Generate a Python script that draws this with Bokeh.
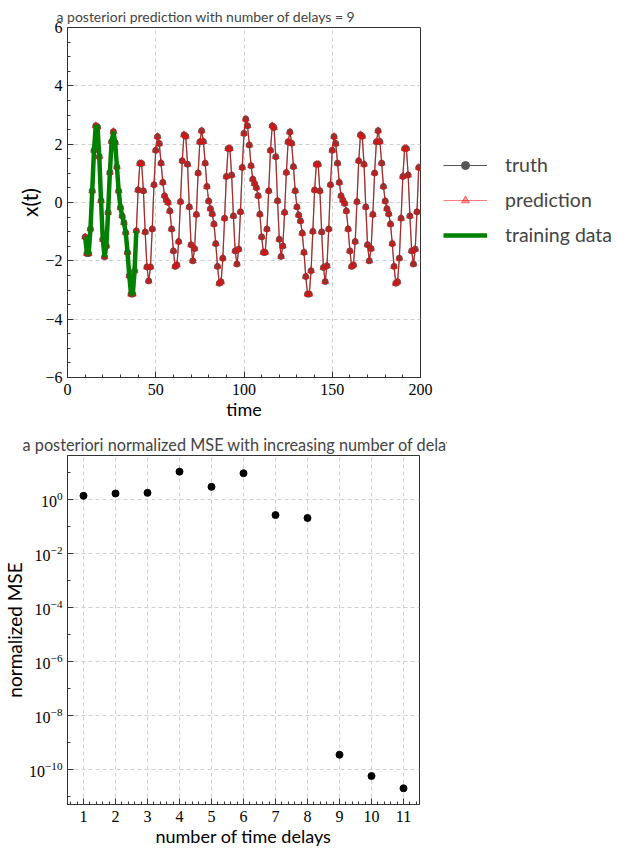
from bokeh.plotting import figure
from bokeh.layouts import column, row
from bokeh.models import (Range1d, Legend, LegendItem, FixedTicker,
                          SingleIntervalTicker, LogTickFormatter)
from bokeh.embed import file_html
from bokeh.resources import INLINE

# ---------------- data ----------------
time = list(range(10, 200))
x_truth = [
    -1.18, -1.75, -1.75, -0.91, 0.40, 1.79, 2.63, 2.59, 1.57, 0.06,
    -1.26, -1.86, -1.49, -0.34, 1.03, 2.09, 2.43, 2.06, 1.22, 0.40,
    -0.17, -0.46, -0.69, -1.03, -1.71, -2.51, -3.14, -3.14, -2.34, -0.97,
    0.43, 1.34, 1.34, 0.40, -1.01, -2.21, -2.69, -2.21, -0.91, 0.61,
    1.79, 2.26, 2.02, 1.35, 0.69, 0.23, 0.08, 0.00, -0.29, -0.91,
    -1.66, -2.19, -2.14, -1.34, 0.03, 1.43, 2.32, 2.27, 1.31, -0.15,
    -1.45, -2.00, -1.58, -0.41, 1.01, 2.08, 2.46, 2.09, 1.35, 0.55,
    0.05, -0.21, -0.39, -0.74, -1.41, -2.19, -2.77, -2.72, -1.91, -0.54,
    0.89, 1.85, 1.85, 0.94, -0.46, -1.66, -2.11, -1.60, -0.32, 1.20,
    2.37, 2.86, 2.63, 1.97, 1.26, 0.80, 0.65, 0.51, 0.23, -0.40,
    -1.18, -1.71, -1.71, -0.91, 0.40, 1.79, 2.63, 2.57, 1.57, 0.06,
    -1.26, -1.85, -1.49, -0.34, 1.03, 2.08, 2.42, 2.03, 1.23, 0.40,
    -0.15, -0.43, -0.63, -1.05, -1.71, -2.54, -3.14, -3.14, -2.34, -0.99,
    0.43, 1.31, 1.31, 0.40, -1.01, -2.23, -2.71, -2.17, -0.91, 0.61,
    1.79, 2.26, 2.02, 1.35, 0.69, 0.23, 0.08, -0.03, -0.29, -0.91,
    -1.66, -2.19, -2.14, -1.34, 0.03, 1.43, 2.32, 2.27, 1.31, -0.15,
    -1.45, -2.00, -1.58, -0.41, 1.01, 2.08, 2.46, 2.09, 1.35, 0.55,
    0.05, -0.21, -0.39, -0.74, -1.41, -2.19, -2.77, -2.72, -1.91, -0.54,
    0.89, 1.85, 1.85, 0.94, -0.46, -1.66, -2.11, -1.60, -0.32, 1.20,
]
x_prediction = list(x_truth)
train_time = time[:30]
train_x = x_truth[:30]

delays = [1, 2, 3, 4, 5, 6, 7, 8, 9, 10, 11]
mse = [1.4, 1.7, 1.8, 11.0, 3.0, 9.6, 0.27, 0.21, 3.5e-10, 5.7e-11, 2.0e-11]

SANS = "Lato"
SERIF = "Liberation Serif"
AX = "#333333"
TRUTH_C = "#555555"
PRED_C = "red"
TRAIN_C = "green"


def style_axis(ax, label_size="18px", label_standoff=4):
    ax.axis_line_color = AX
    ax.major_tick_line_color = AX
    ax.minor_tick_line_color = AX
    ax.major_tick_in = 6
    ax.major_tick_out = 0
    ax.minor_tick_in = 3
    ax.minor_tick_out = 0
    ax.major_label_text_font = SERIF
    ax.major_label_text_font_size = "16px"
    ax.major_label_text_color = "black"
    ax.major_label_standoff = label_standoff
    ax.axis_label_text_font = SANS
    ax.axis_label_text_font_style = "normal"
    ax.axis_label_text_font_size = label_size
    ax.axis_label_text_color = "black"
    ax.axis_label_standoff = 0


def draw_series(p, t, xt, xp, tt, tx, visible=True):
    lt = p.line(t, xt, line_color=TRUTH_C, line_width=1.2, visible=visible)
    st = p.scatter(t, xt, marker="circle", size=6, fill_color=TRUTH_C,
                   line_color=TRUTH_C, visible=visible)
    lp = p.line(t, xp, line_color=PRED_C, line_alpha=0.5, line_width=1.2, visible=visible)
    sp = p.scatter(t, xp, marker="triangle", size=7, fill_color=PRED_C, line_color=PRED_C,
                   fill_alpha=0.4, line_alpha=0.5, visible=visible)
    lg = p.line(tt, tx, line_color=TRAIN_C, line_width=4.5, visible=visible)
    return lt, st, lp, sp, lg


# ---------------- top figure ----------------
p1 = figure(width=434, height=423, frame_align=False,
            x_range=Range1d(0, 200), y_range=Range1d(-6, 6),
            output_backend="svg", toolbar_location=None,
            min_border_left=67, min_border_top=27, min_border_bottom=46,
            min_border_right=14)
p1.title.text = "a posteriori prediction with number of delays = 9"
p1.title.align = "left"
p1.title.offset = -11
p1.title.text_font = SANS
p1.title.text_font_style = "normal"
p1.title.text_font_size = "14px"
p1.title.standoff = 5
p1.outline_line_color = AX

xt1 = SingleIntervalTicker(interval=50, num_minor_ticks=5)
yt1 = SingleIntervalTicker(interval=2, num_minor_ticks=4)
p1.xaxis.ticker = xt1
p1.yaxis.ticker = yt1
style_axis(p1.xaxis[0], "18px", 6)
style_axis(p1.yaxis[0], "21px", 5)
p1.xaxis.axis_label = "time"
p1.yaxis.axis_label = "x(t)"
p1.yaxis.major_label_overrides = {-2: "\u22122", -4: "\u22124", -6: "\u22126"}
p1.grid.grid_line_color = "#d0d0d0"
p1.grid.grid_line_dash = "4 3"

draw_series(p1, time, x_truth, x_prediction, train_time, train_x)

# ---------------- legend panel (separate canvas to the right) ----------------
pl = figure(width=200, height=423, frame_align=False,
            x_range=Range1d(0, 200), y_range=Range1d(-6, 6),
            x_axis_location=None, y_axis_location=None,
            output_backend="svg", toolbar_location=None, min_border=0)
pl.grid.visible = False
pl.outline_line_color = None
lt, st, lp, sp, lg = draw_series(pl, time, x_truth, x_prediction, train_time, train_x,
                                 visible=False)
legend = Legend(items=[
    LegendItem(label="truth", renderers=[lt, st]),
    LegendItem(label="prediction", renderers=[lp, sp]),
    LegendItem(label="training data", renderers=[lg]),
], location=(9, 177))
legend.border_line_color = None
legend.background_fill_alpha = 0
legend.inactive_fill_alpha = 0
legend.label_text_font = SANS
legend.label_text_font_size = "19.5px"
legend.glyph_width = 44
legend.glyph_height = 20
legend.label_height = 20
legend.label_standoff = 18
legend.spacing = 12
legend.padding = 0
legend.margin = 0
pl.add_layout(legend)

# ---------------- bottom figure ----------------
p2 = figure(width=447, height=426, frame_align=False,
            x_range=Range1d(0.5, 11.5), y_range=Range1d(10 ** -11.3, 10 ** 1.64),
            y_axis_type="log",
            output_backend="svg", toolbar_location=None,
            min_border_left=67, min_border_top=32, min_border_bottom=44,
            min_border_right=28)
p2.title.text = "a posteriori normalized MSE with increasing number of delays"
p2.title.align = "left"
p2.title.offset = -45
p2.title.text_font = SANS
p2.title.text_font_style = "normal"
p2.title.text_font_size = "16.3px"
p2.title.standoff = 3
p2.outline_line_color = AX

xt2 = SingleIntervalTicker(interval=1, num_minor_ticks=5)
yt2 = FixedTicker(ticks=[1e-10, 1e-8, 1e-6, 1e-4, 1e-2, 1.0],
                  minor_ticks=[10.0 ** k for k in range(-11, 2)])
p2.xaxis.ticker = xt2
p2.yaxis.ticker = yt2
p2.yaxis.formatter = LogTickFormatter()
style_axis(p2.xaxis[0], "18px", 6)
style_axis(p2.yaxis[0], "19px", 5)
p2.xaxis.axis_label = "number of time delays"
p2.yaxis.axis_label = "normalized MSE"
p2.grid.grid_line_color = "#d0d0d0"
p2.grid.grid_line_dash = "4 3"

p2.scatter(delays, mse, marker="circle", size=7, fill_color="black", line_color="black")

layout = column(row(p1, pl, spacing=0), p2, spacing=0)

open("out.html", "w").write(file_html(layout, INLINE))
